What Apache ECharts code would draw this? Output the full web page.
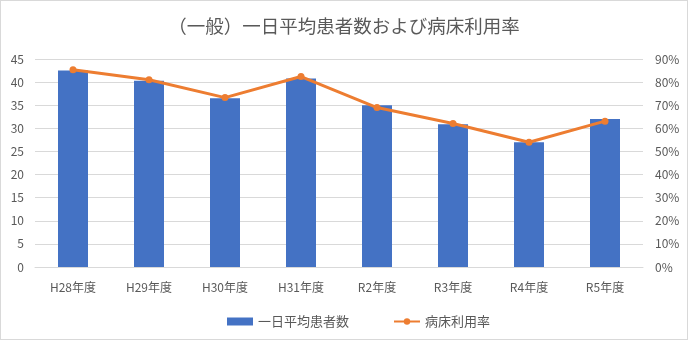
<!DOCTYPE html>
<html>
<head>
<meta charset="utf-8">
<script src="https://cdn.jsdelivr.net/npm/echarts@6/dist/echarts.min.js"></script>
<style>
html,body{margin:0;padding:0;background:#fff;}
#c{width:686px;height:338px;border:1px solid #d9d9d9;}
</style>
</head>
<body>
<div id="c"></div>
<script>
const categories = ['H28年度','H29年度','H30年度','H31年度','R2年度','R3年度','R4年度','R5年度'];
const patients = [42.5, 40.3, 36.5, 40.8, 35.0, 30.9, 27.0, 32.0];
const occupancy = [85.3, 81.0, 73.3, 82.4, 69.0, 62.1, 54.0, 63.1];
const seriesNames = ['一日平均患者数', '病床利用率'];
const titleText = '（一般）一日平均患者数および病床利用率';

const font = '"Noto Sans CJK JP", sans-serif';
const chart = echarts.init(document.getElementById('c'));
chart.setOption({
  animation: false,
  textStyle: {fontFamily: font},
  title: {
    text: titleText, left: 'center', top: 11,
    textStyle: {fontSize: 18.5, fontWeight: 'normal', color: '#595959', fontFamily: font}
  },
  legend: {
    left: 221, top: 309, itemWidth: 26, itemHeight: 8, itemGap: 44,
    textStyle: {fontSize: 13, color: '#595959', fontFamily: font},
    data: [{name: seriesNames[0], icon: 'rect'}, {name: seriesNames[1]}]
  },
  grid: {left: 34, right: 44, top: 58, bottom: 72, containLabel: false},
  xAxis: {
    type: 'category', data: categories,
    axisLine: {lineStyle: {color: '#d9d9d9'}},
    axisTick: {show: false},
    axisLabel: {fontSize: 12, color: '#595959', margin: 14, fontFamily: font}
  },
  yAxis: [{
    type: 'value', min: 0, max: 45, interval: 5,
    axisLabel: {fontSize: 12, color: '#595959', margin: 11, fontFamily: font},
    splitLine: {lineStyle: {color: '#d9d9d9'}},
    axisLine: {show: false}, axisTick: {show: false}
  }, {
    type: 'value', min: 0, max: 90, interval: 10, position: 'right',
    axisLabel: {fontSize: 12, color: '#595959', margin: 12, formatter: '{value}%', fontFamily: font},
    splitLine: {show: false},
    axisLine: {show: false}, axisTick: {show: false}
  }],
  series: [{
    name: seriesNames[0], type: 'bar', data: patients, barWidth: 30,
    itemStyle: {color: '#4472C4'}
  }, {
    name: seriesNames[1], type: 'line', yAxisIndex: 1, data: occupancy,
    symbol: 'circle', symbolSize: 7,
    lineStyle: {color: '#ED7D31', width: 3},
    itemStyle: {color: '#ED7D31'}
  }]
});
</script>
</body>
</html>
